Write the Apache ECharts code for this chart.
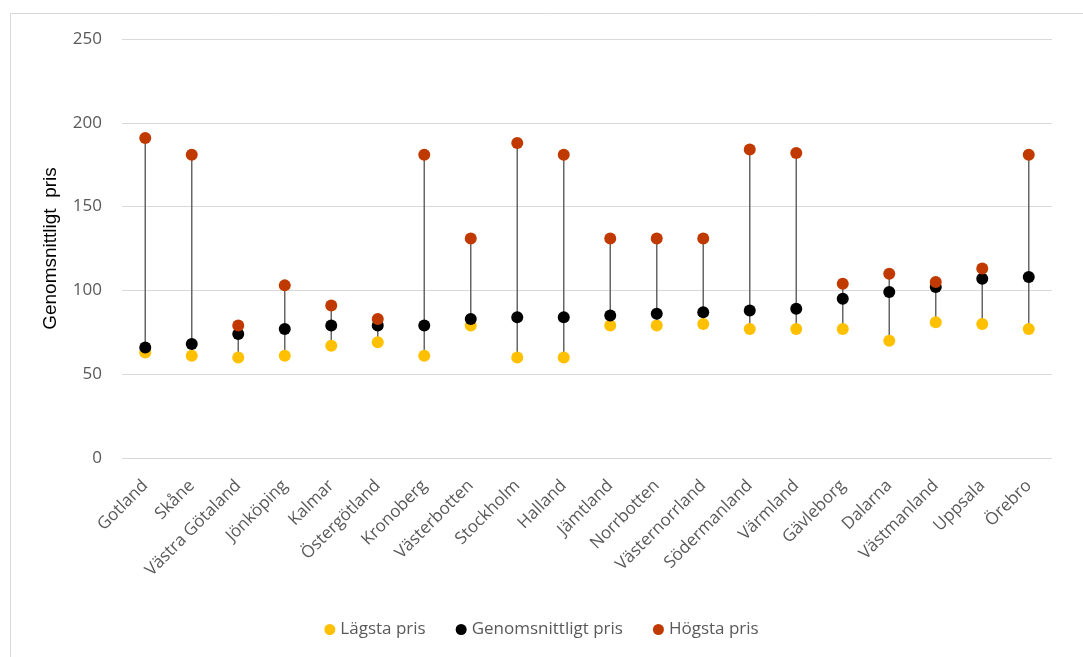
<!DOCTYPE html>
<html>
<head>
<meta charset="utf-8">
<script src="https://cdn.jsdelivr.net/npm/echarts@6/dist/echarts.min.js"></script>
<style>
  html, body { margin: 0; padding: 0; background: #ffffff; }
  #chart { width: 1083px; height: 657px; }
</style>
</head>
<body>
<div id="chart"></div>
<script>
// Price range per county: lowest, average and highest price
const counties = ['Gotland', 'Skåne', 'Västra Götaland', 'Jönköping', 'Kalmar', 'Östergötland',
  'Kronoberg', 'Västerbotten', 'Stockholm', 'Halland', 'Jämtland', 'Norrbotten', 'Västernorrland',
  'Södermanland', 'Värmland', 'Gävleborg', 'Dalarna', 'Västmanland', 'Uppsala', 'Örebro'];
const lowest  = [63, 61, 60, 61, 67, 69, 61, 79, 60, 60, 79, 79, 80, 77, 77, 77, 70, 81, 80, 77];
const average = [66, 68, 74, 77, 79, 79, 79, 83, 84, 84, 85, 86, 87, 88, 89, 95, 99, 102, 107, 108];
const highest = [191, 181, 79, 103, 91, 83, 181, 131, 188, 181, 131, 131, 131, 184, 182, 104, 110, 105, 113, 181];
const legendNames = ['Lägsta pris', 'Genomsnittligt pris', 'Högsta pris'];
const yTitle = 'Genomsnittligt  pris';

const labelFont = '"Open Sans", Lato, sans-serif';
const chart = echarts.init(document.getElementById('chart'), null, { renderer: 'canvas' });

// one vertical segment per county, from lowest to highest price
const rangeData = counties.map((c, i) => [i, lowest[i], highest[i]]);

chart.setOption({
  animation: false,
  backgroundColor: '#ffffff',
  graphic: [{
    type: 'rect',
    shape: { x: 10.5, y: 13.5, width: 1100, height: 700 },
    style: { fill: 'none', stroke: '#d9d9d9', lineWidth: 1 },
    silent: true
  }],
  grid: { left: 122, right: 31, top: 39, bottom: 199, containLabel: false },
  legend: {
    bottom: 14,
    left: 'center',
    itemWidth: 11,
    itemHeight: 11,
    itemGap: 30,
    icon: 'circle',
    textStyle: { fontFamily: labelFont, fontSize: 17, color: '#595959' },
    data: legendNames
  },
  xAxis: {
    type: 'category',
    data: counties,
    boundaryGap: true,
    axisLine: { show: false },
    axisTick: { show: false },
    axisLabel: {
      rotate: 45,
      interval: 0,
      margin: 25,
      fontFamily: labelFont,
      fontSize: 17,
      color: '#595959'
    }
  },
  yAxis: {
    type: 'value',
    min: 0,
    max: 250,
    interval: 50,
    name: yTitle,
    nameLocation: 'middle',
    nameGap: 62,
    nameRotate: 90,
    nameTextStyle: { fontFamily: '"Liberation Sans", Arial, sans-serif', fontSize: 19, color: '#000000' },
    axisLine: { show: false },
    axisTick: { show: false },
    axisLabel: { margin: 20, fontFamily: labelFont, fontSize: 17, color: '#595959' },
    splitLine: { lineStyle: { color: '#d9d9d9', width: 1 } }
  },
  series: [
    {
      type: 'custom',
      name: 'range',
      z: 1,
      silent: true,
      data: rangeData,
      encode: { x: 0, y: [1, 2] },
      renderItem: function (params, api) {
        const p1 = api.coord([api.value(0), api.value(1)]);
        const p2 = api.coord([api.value(0), api.value(2)]);
        return {
          type: 'line',
          shape: { x1: p1[0], y1: p1[1], x2: p2[0], y2: p2[1] },
          style: { stroke: '#666666', lineWidth: 1.5 }
        };
      }
    },
    {
      type: 'scatter',
      name: legendNames[0],
      z: 2,
      data: lowest,
      symbolSize: 12,
      itemStyle: { color: '#FFC000', opacity: 1 }
    },
    {
      type: 'scatter',
      name: legendNames[1],
      z: 3,
      data: average,
      symbolSize: 12,
      itemStyle: { color: '#000000', opacity: 1 }
    },
    {
      type: 'scatter',
      name: legendNames[2],
      z: 4,
      data: highest,
      symbolSize: 12,
      itemStyle: { color: '#C03A00', opacity: 1 }
    }
  ]
});
</script>
</body>
</html>
